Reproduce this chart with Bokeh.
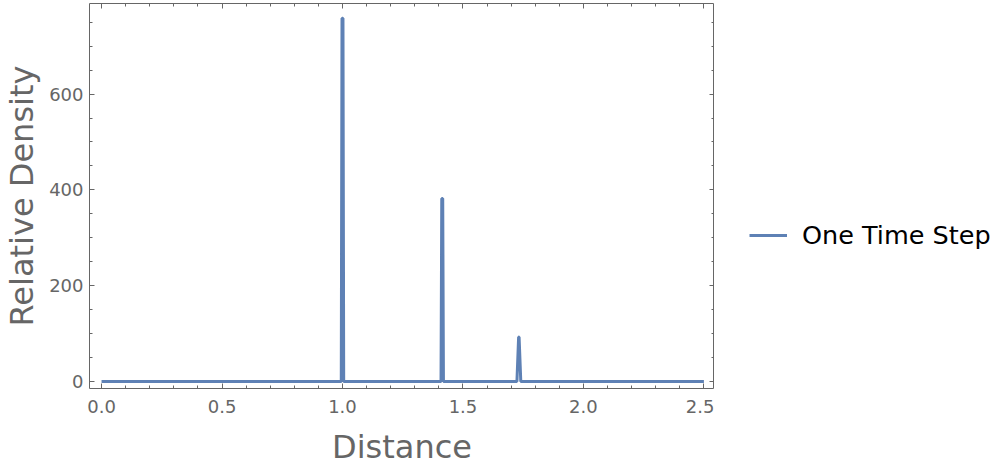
from bokeh.plotting import figure
from bokeh.models import LinearAxis, Legend, LegendItem, FixedTicker, ColumnDataSource, Range1d
from bokeh.layouts import row
from bokeh.embed import file_html
from bokeh.resources import INLINE

# Data
distance = [0.0, 0.995, 0.998, 1.002, 1.005, 1.409, 1.412, 1.416, 1.419, 1.724, 1.731, 1.733, 1.740, 2.5]
density = [0, 0, 758, 758, 0, 0, 382, 382, 0, 0, 93, 93, 0, 0]
series_name = "One Time Step"
x_ticks = [0.0, 0.5, 1.0, 1.5, 2.0, 2.5]
y_ticks = [0, 200, 400, 600]
x_minor = [round(i * 0.1, 1) for i in range(-1, 27)]
y_minor = [i * 50 for i in range(-1, 17)]

FONT = "DejaVu Sans"
GRAY = "#666666"
LINE = "#5E81B5"

p = figure(frame_width=625, frame_height=385, x_range=(-0.05, 2.544), y_range=(-14.6, 789),
           output_backend="svg", toolbar_location=None,
           min_border_left=80, min_border_top=3, min_border_bottom=70, min_border_right=0,
           x_axis_label="Distance", y_axis_label="Relative Density")
p.background_fill_color = "white"
p.border_fill_color = "white"
p.outline_line_color = GRAY
p.outline_line_width = 1
p.grid.visible = False

src = ColumnDataSource(dict(x=distance, y=density))
r = p.line("x", "y", source=src, line_color=LINE, line_width=3)

def style(ax, labels=True):
    ax.axis_line_color = None
    ax.major_tick_in = 5
    ax.major_tick_out = 0
    ax.minor_tick_in = 3
    ax.minor_tick_out = 0
    ax.major_tick_line_color = GRAY
    ax.minor_tick_line_color = GRAY
    ax.major_label_text_color = GRAY
    ax.major_label_text_font = FONT
    ax.major_label_text_font_size = "18px"
    ax.axis_label_text_color = GRAY
    ax.axis_label_text_font = FONT
    ax.axis_label_text_font_size = "32px"
    ax.axis_label_text_font_style = "normal"
    if not labels:
        ax.major_label_standoff = 0

xt = FixedTicker(ticks=x_ticks, minor_ticks=x_minor)
yt = FixedTicker(ticks=y_ticks, minor_ticks=y_minor)
p.xaxis.ticker = xt
p.yaxis.ticker = yt
p.xaxis.major_label_overrides = {t: f"{t:.1f}" for t in x_ticks}
style(p.xaxis[0])
style(p.yaxis[0])
p.xaxis.major_label_standoff = 11
p.xaxis.axis_label_standoff = 12
p.yaxis.major_label_standoff = 6
p.yaxis.axis_label_standoff = 5

top = LinearAxis(ticker=FixedTicker(ticks=x_ticks, minor_ticks=x_minor),
                 major_label_overrides={t: "" for t in x_ticks})
style(top, labels=False)
p.add_layout(top, "above")
right = LinearAxis(ticker=FixedTicker(ticks=y_ticks, minor_ticks=y_minor),
                   major_label_overrides={t: "" for t in y_ticks})
style(right, labels=False)
p.add_layout(right, "right")

# Legend panel: a second, axis-less figure beside the plot
q = figure(width=280, height=460, x_range=Range1d(10, 11), y_range=Range1d(10, 11),
           output_backend="svg", toolbar_location=None,
           x_axis_location=None, y_axis_location=None,
           min_border_left=0, min_border_right=0, min_border_top=0, min_border_bottom=0)
q.outline_line_color = None
q.grid.visible = False
q.background_fill_color = "white"
q.border_fill_color = "white"
r2 = q.line(distance, density, line_color=LINE, line_width=3)

legend = Legend(items=[LegendItem(label=series_name, renderers=[r2])], location=(35, 130))
legend.label_text_font = FONT
legend.label_text_font_size = "25.5px"
legend.label_text_color = "black"
legend.glyph_width = 38
legend.label_standoff = 15
legend.border_line_color = None
legend.background_fill_alpha = 0
legend.margin = 0
legend.padding = 0
q.add_layout(legend, "center")

layout = row(p, q)
open("out.html", "w").write(file_html(layout, INLINE))
